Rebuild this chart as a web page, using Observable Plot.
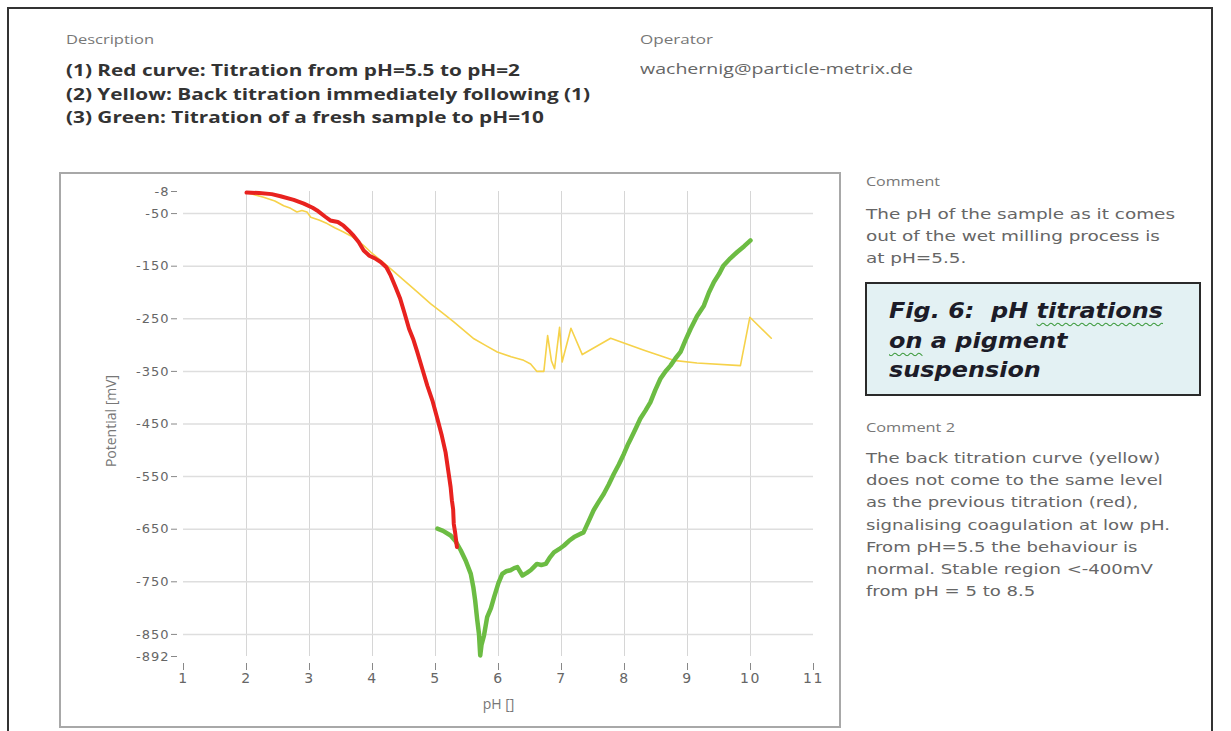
<!DOCTYPE html>
<html>
<head>
<meta charset="utf-8">
<script src="https://cdn.jsdelivr.net/npm/d3@7"></script>
<script src="https://cdn.jsdelivr.net/npm/@observablehq/plot@0.6"></script>
<style>
  html, body { margin: 0; padding: 0; background: #fff; }
  body { width: 1231px; height: 731px; position: relative; overflow: hidden; font-family: "DejaVu Sans", sans-serif; }
  .abs { position: absolute; white-space: nowrap; transform-origin: 0 0; }
  #frame { position: absolute; left: 7px; top: 7px; width: 1206px; height: 760px; border: 2px solid #333; box-sizing: border-box; }
  .lbl { font-family: "Open Sans", sans-serif; font-size: 13px; color: #777; }
  .desc { font-family: "Open Sans", sans-serif; font-weight: bold; font-size: 16.5px; color: #333; line-height: 23.5px; }
  .op { font-family: "Open Sans", sans-serif; font-size: 15px; color: #666; }
  .cmt { font-family: "DejaVu Sans", sans-serif; font-size: 14.5px; color: #666; line-height: 22.2px; }
  #panel { position: absolute; left: 59px; top: 172px; width: 782px; height: 556px; border: 2px solid #a8a8a8; box-sizing: border-box; }
  #fig { position: absolute; left: 865px; top: 282px; width: 336px; height: 114px; box-sizing: border-box; border: 2px solid #2a2a2a; background: #e3f1f3; }
  #figtxt { left: 22px; top: 13px; font-family: "DejaVu Sans", sans-serif; font-weight: bold; font-style: italic; font-size: 21px; line-height: 29.5px; color: #1c1c28; }
  .wavy { text-decoration: underline wavy #3c9a3c; text-decoration-thickness: 1px; text-underline-offset: 4px; text-decoration-skip-ink: none; }
  #chart { position: absolute; left: 60px; top: 173px; }
  #chart g[aria-label="y-axis tick label"] text { letter-spacing: 1px; }
  #chart g[aria-label="x-axis tick label"] text { letter-spacing: 1.5px; }
  #chart g[aria-label="x-title"] text { letter-spacing: 2px; }
  #chart g[aria-label="y-title"] text { letter-spacing: 1.5px; }
</style>
</head>
<body>
<div id="frame"></div>
<div class="abs lbl" data-w="88" style="left:66px; top:30px;">Description</div>
<div class="abs desc" data-w="524" style="left:66px; top:58px;">(1) Red curve: Titration from pH=5.5 to pH=2<br>(2) Yellow: Back titration immediately following (1)<br>(3) Green: Titration of a fresh sample to pH=10</div>
<div class="abs lbl" data-w="73" style="left:640px; top:30px;">Operator</div>
<div class="abs op" data-w="273" style="left:640px; top:58px;">wachernig@particle-metrix.de</div>

<div id="panel"></div>
<div id="chart"></div>

<div class="abs lbl" data-w="74" style="left:866px; top:172px;">Comment</div>
<div class="abs cmt" data-w="309" style="left:866px; top:203px;">The pH of the sample as it comes<br>out of the wet milling process is<br>at pH=5.5.</div>
<div id="fig"><div id="figtxt" class="abs" data-w="274">Fig. 6:&nbsp; pH <span class="wavy">titrations</span><br><span class="wavy">on</span> a pigment<br>suspension</div></div>
<div class="abs lbl" data-w="89" style="left:866px; top:418px;">Comment 2</div>
<div class="abs cmt" data-w="304" style="left:866px; top:447px;">The back titration curve (yellow)<br>does not come to the same level<br>as the previous titration (red),<br>signalising coagulation at low pH.<br>From pH=5.5 the behaviour is<br>normal. Stable region &lt;-400mV<br>from pH = 5 to 8.5</div>

<script>
// ---- data ----
const xTicks = [1, 2, 3, 4, 5, 6, 7, 8, 9, 10, 11];
const xGrid = [2, 3, 4, 5, 6, 7, 8, 9, 10];
const yTicks = [-8, -50, -150, -250, -350, -450, -550, -650, -750, -850, -892];
const yGrid = [-50, -150, -250, -350, -450, -550, -650, -750, -850];
const xLabel = "pH []";
const yLabel = "Potential [mV]";

// (1) Red: titration from pH 5.5 to pH 2
const redPH = [2.0, 2.2, 2.4, 2.54, 2.75, 2.91, 3.05, 3.12, 3.25, 3.33, 3.45, 3.54, 3.62, 3.70, 3.78, 3.86, 3.95, 4.05, 4.13, 4.22, 4.29, 4.36, 4.44, 4.51, 4.58, 4.65, 4.71, 4.79, 4.87, 4.95, 5.03, 5.10, 5.16, 5.21, 5.24, 5.26, 5.28, 5.29, 5.31, 5.34];
const redMV = [-10, -11, -13, -17, -24, -31, -39, -44, -56, -63, -66, -73, -82, -92, -104, -120, -130, -136, -142, -152, -168, -188, -212, -240, -269, -290, -313, -345, -377, -405, -440, -472, -504, -545, -570, -595, -612, -640, -655, -684];

// (2) Yellow: back titration
const yellowPH = [2.0, 2.27, 2.45, 2.59, 2.70, 2.80, 2.88, 2.96, 3.02, 3.15, 3.28, 3.40, 3.54, 3.65, 3.76, 3.87, 3.97, 4.13, 4.29, 4.50, 4.71, 4.92, 5.10, 5.29, 5.45, 5.61, 5.80, 5.98, 6.20, 6.40, 6.51, 6.61, 6.72, 6.78, 6.84, 6.89, 6.97, 7.01, 7.15, 7.33, 7.78, 8.31, 8.78, 9.15, 9.84, 9.99, 10.33];
const yellowMV = [-10, -19, -26, -35, -40, -47, -44, -47, -57, -62, -69, -77, -85, -92, -101, -112, -123, -139, -155, -177, -199, -221, -238, -256, -272, -288, -301, -313, -322, -329, -336, -350, -350, -282, -330, -345, -266, -332, -268, -318, -287, -310, -329, -334, -339, -247, -287];

// (3) Green: fresh sample to pH 10
const greenPH = [5.03, 5.12, 5.24, 5.32, 5.40, 5.48, 5.56, 5.60, 5.63, 5.66, 5.69, 5.71, 5.73, 5.77, 5.82, 5.88, 5.93, 6.00, 6.06, 6.12, 6.19, 6.25, 6.30, 6.34, 6.38, 6.45, 6.51, 6.56, 6.61, 6.68, 6.75, 6.82, 6.88, 6.96, 7.04, 7.12, 7.20, 7.28, 7.35, 7.43, 7.51, 7.59, 7.67, 7.75, 7.83, 7.91, 7.99, 8.05, 8.10, 8.18, 8.25, 8.33, 8.41, 8.49, 8.57, 8.65, 8.73, 8.81, 8.89, 8.97, 9.05, 9.15, 9.26, 9.34, 9.42, 9.50, 9.57, 9.68, 9.79, 9.90, 10.0];
const greenMV = [-649, -653, -662, -673, -690, -710, -735, -760, -786, -820, -849, -890, -870, -852, -817, -800, -779, -752, -735, -730, -728, -724, -722, -730, -738, -733, -728, -722, -716, -718, -716, -703, -694, -688, -681, -672, -665, -660, -656, -635, -614, -598, -583, -565, -545, -527, -507, -490, -478, -458, -440, -425, -409, -385, -364, -350, -339, -325, -313, -290, -269, -245, -225, -200, -180, -165, -149, -135, -123, -112, -101];

const toRows = (xs, ys) => xs.map((x, i) => ({pH: x, mV: ys[i]}));
const red = toRows(redPH, redMV);
const yellow = toRows(yellowPH, yellowMV);
const green = toRows(greenPH, greenMV);

const chart = Plot.plot({
  width: 780,
  height: 554,
  marginLeft: 123,
  marginRight: 27,
  marginTop: 18,
  marginBottom: 71,
  style: {background: "transparent", fontFamily: "'DejaVu Sans', sans-serif", fontSize: "13px", color: "#666"},
  x: {domain: [1, 11]},
  y: {domain: [-892, -8]},
  marks: [
    Plot.gridX(xGrid, {stroke: "#d6d6d6", strokeOpacity: 1, strokeWidth: 1}),
    Plot.gridY(yGrid, {stroke: "#dedede", strokeOpacity: 1, strokeWidth: 1.5}),
    Plot.axisY({ticks: yTicks, tickFormat: d => String(d), tickSize: 6, tickPadding: 2, dx: -6, label: null, stroke: "#888", fill: "#666", fontSize: 13}),
    Plot.axisX({ticks: xTicks, tickFormat: d => String(d), tickSize: 7, tickPadding: 3, dy: 7, label: null, stroke: "#888", fill: "#666", fontSize: 14}),
    Plot.text([xLabel], {text: d => d, frameAnchor: "bottom", dy: 52, fill: "#777", fontSize: 14, fontFamily: "'Open Sans', sans-serif", ariaLabel: "x-title"}),
    Plot.text([yLabel], {text: d => d, frameAnchor: "left", textAnchor: "middle", dx: -72, dy: -3, rotate: -90, fill: "#777", fontSize: 14, fontFamily: "'Open Sans', sans-serif", ariaLabel: "y-title"}),
    Plot.line(yellow, {x: "pH", y: "mV", stroke: "#f6d24a", strokeWidth: 1.6}),
    Plot.line(green, {x: "pH", y: "mV", stroke: "#6cbc43", strokeWidth: 4.5}),
    Plot.line(red, {x: "pH", y: "mV", stroke: "#e8221f", strokeWidth: 4})
  ]
});
document.getElementById("chart").appendChild(chart);

// stretch text blocks horizontally to the widths seen in the reference
document.querySelectorAll("[data-w]").forEach(el => {
  const w = el.getBoundingClientRect().width;
  const target = +el.dataset.w;
  if (w > 0) el.style.transform = `scaleX(${target / w})`;
});
</script>
</body>
</html>
